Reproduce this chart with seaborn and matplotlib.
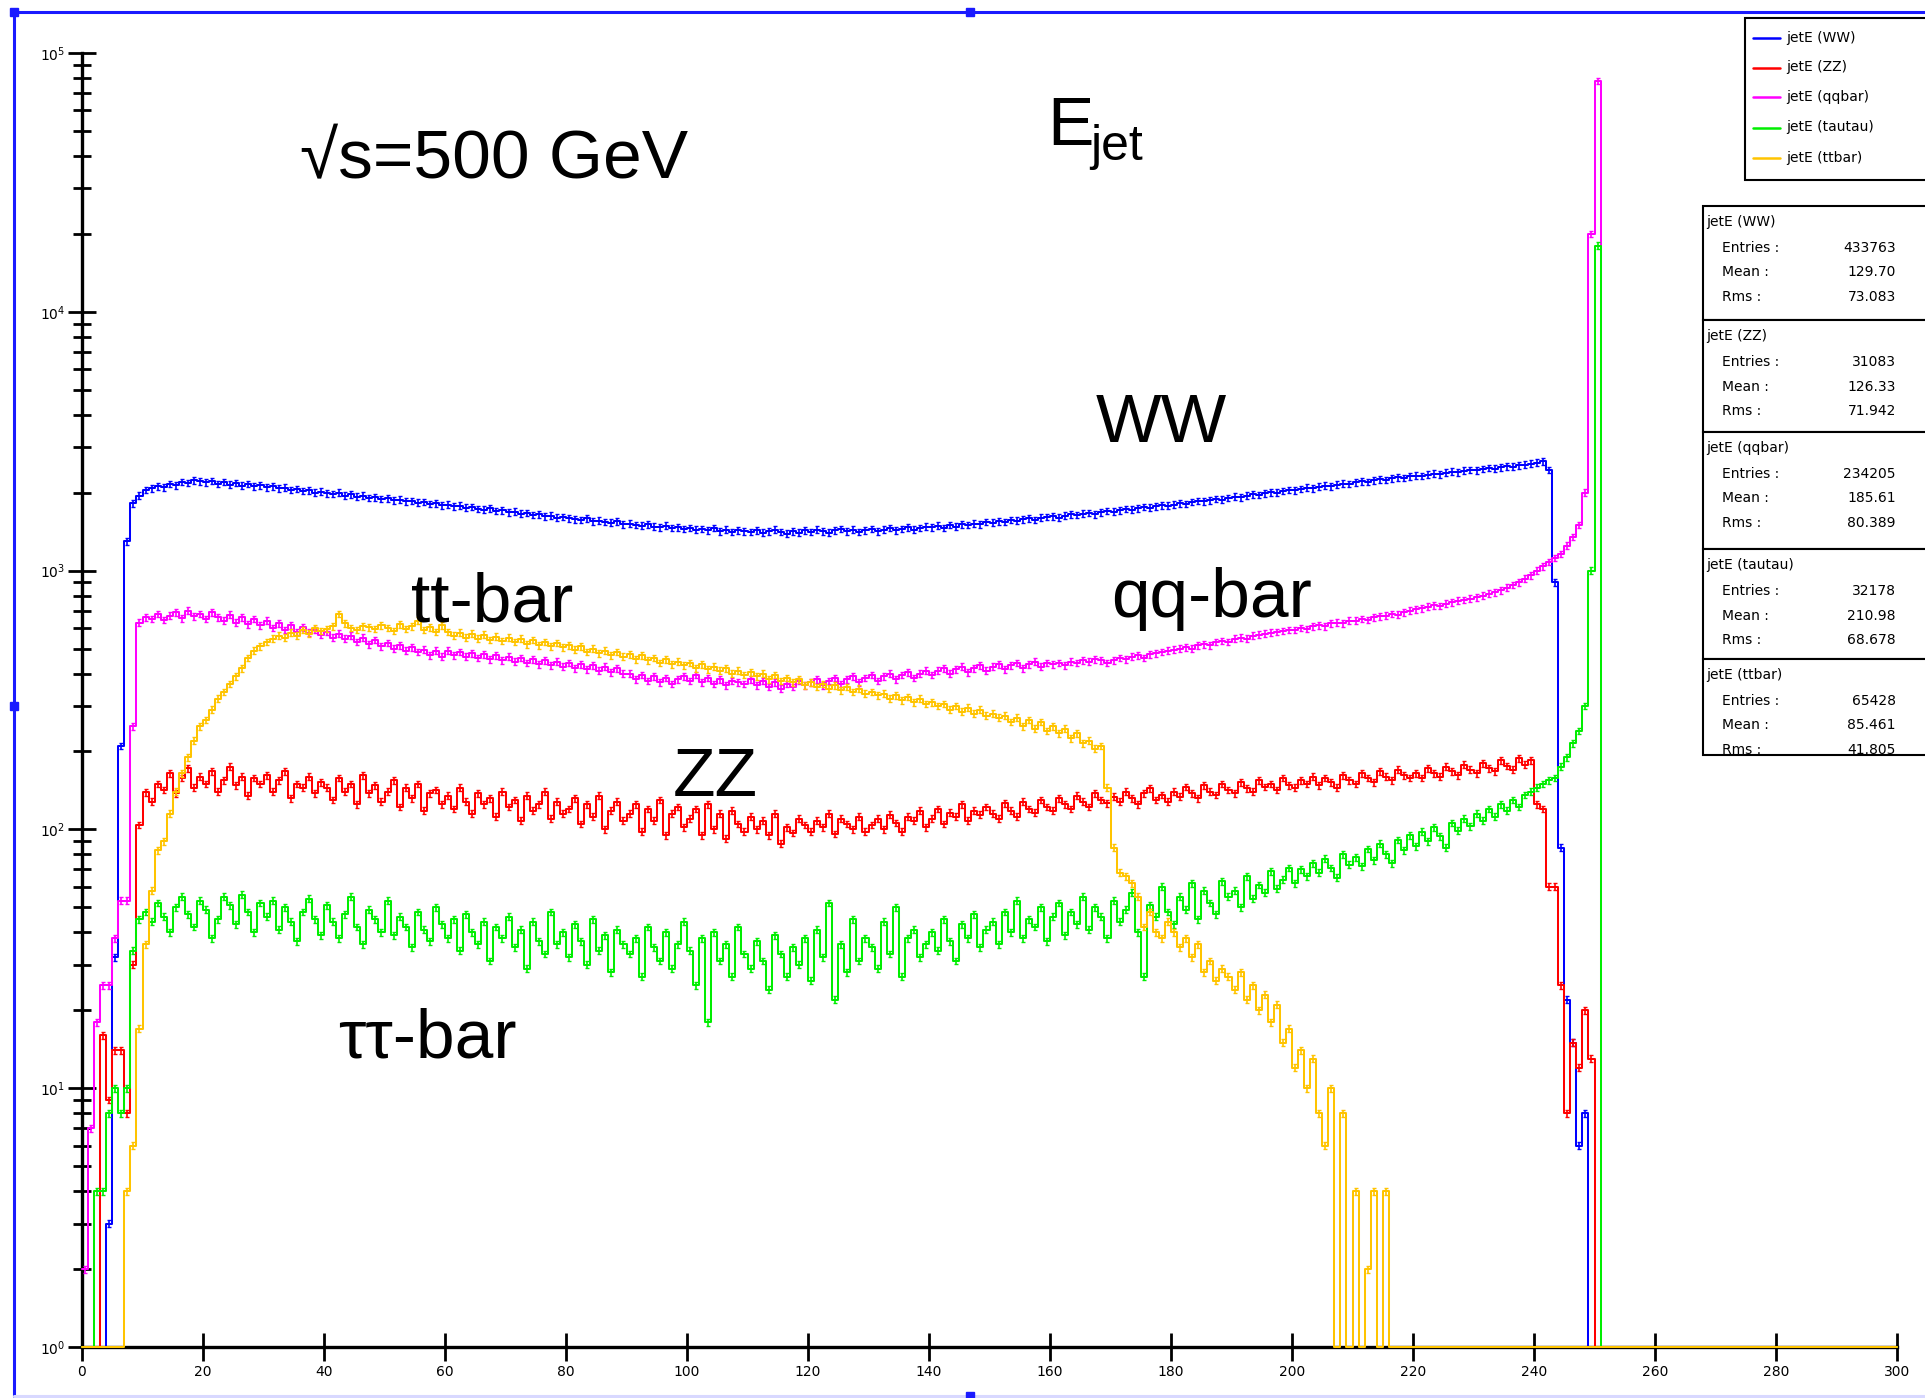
import numpy as np
import pandas as pd
import matplotlib
matplotlib.use("Agg")
import matplotlib.pyplot as plt
import seaborn as sns
from matplotlib.patches import Rectangle
from matplotlib.lines import Line2D
from matplotlib.ticker import LogLocator, NullFormatter

sns.set_theme(style="white")
plt.rcParams['font.family'] = ['Liberation Sans', 'DejaVu Sans']

# ---------------- data (counts per 1 GeV bin, starting at E = 0) ----------------
ww = [
    0, 0, 0, 0, 3, 32, 210, 1300, 1820, 1950,
    2050, 2080, 2120, 2100, 2160, 2140, 2200, 2180, 2230, 2210,
    2190, 2220, 2160, 2200, 2150, 2180, 2130, 2160, 2120, 2140,
    2100, 2120, 2080, 2090, 2050, 2070, 2030, 2040, 2000, 2020,
    1990, 1980, 2000, 1950, 1970, 1930, 1950, 1910, 1920, 1890,
    1900, 1870, 1880, 1850, 1860, 1830, 1840, 1810, 1820, 1790,
    1800, 1770, 1780, 1750, 1760, 1730, 1720, 1740, 1700, 1710,
    1680, 1690, 1660, 1670, 1640, 1650, 1620, 1630, 1600, 1610,
    1590, 1580, 1570, 1590, 1550, 1560, 1540, 1530, 1550, 1510,
    1520, 1500, 1490, 1510, 1480, 1470, 1490, 1460, 1470, 1450,
    1460, 1440, 1450, 1430, 1460, 1420, 1440, 1410, 1430, 1420,
    1410, 1430, 1400, 1420, 1440, 1410, 1390, 1420, 1400, 1430,
    1410, 1440, 1420, 1400, 1430, 1450, 1420, 1440, 1410, 1430,
    1450, 1420, 1440, 1460, 1430, 1450, 1470, 1440, 1460, 1480,
    1470, 1490, 1460, 1500, 1480, 1510, 1500, 1520, 1510, 1540,
    1530, 1550, 1540, 1570, 1560, 1580, 1590, 1570, 1600, 1610,
    1620, 1600, 1630, 1650, 1640, 1660, 1670, 1650, 1680, 1700,
    1690, 1710, 1730, 1720, 1740, 1760, 1750, 1770, 1790, 1780,
    1800, 1820, 1810, 1840, 1860, 1850, 1870, 1890, 1880, 1910,
    1930, 1920, 1950, 1970, 1960, 1990, 2010, 2000, 2030, 2050,
    2040, 2070, 2090, 2080, 2110, 2130, 2120, 2150, 2170, 2160,
    2190, 2210, 2200, 2230, 2250, 2240, 2270, 2290, 2280, 2310,
    2330, 2320, 2350, 2370, 2360, 2390, 2410, 2400, 2430, 2450,
    2440, 2470, 2490, 2480, 2510, 2530, 2520, 2550, 2570, 2590,
    2610, 2640, 2450, 900, 85, 22, 15, 6, 8, 0,
]

zz = [
    0, 0, 0, 16, 9, 14, 14, 8, 30, 104,
    139, 128, 150, 142, 165, 138, 158, 172, 145, 160,
    150, 168, 140, 155, 175, 148, 160, 135, 158, 150,
    162, 140, 155, 168, 132, 150, 145, 160, 138, 152,
    145, 130, 158, 140, 150, 125, 162, 138, 148, 128,
    140, 155, 122, 145, 132, 150, 118, 138, 142, 125,
    135, 120, 145, 128, 115, 138, 125, 132, 112, 140,
    122, 130, 108, 135, 118, 125, 140, 110, 128, 115,
    120, 132, 105, 125, 112, 135, 100, 118, 128, 108,
    115, 125, 98, 120, 108, 130, 95, 115, 122, 102,
    110, 120, 95, 125, 100, 115, 92, 118, 105, 98,
    112, 100, 108, 95, 115, 88, 102, 97, 110, 104,
    98, 108, 102, 115, 96, 110, 105, 100, 112, 98,
    104, 110, 100, 114, 106, 98, 112, 108, 118, 102,
    110, 120, 105, 116, 112, 125, 108, 118, 114, 122,
    115, 110, 126, 118, 112, 128, 120, 116, 130, 122,
    118, 132, 125, 120, 135, 128, 122, 138, 130, 126,
    134, 128, 140, 132, 125, 138, 144, 130, 136, 128,
    140, 134, 146, 138, 132, 148, 140, 136, 150, 142,
    138, 152, 144, 140, 155, 146, 150, 142, 158, 148,
    145, 155, 150, 160, 148, 158, 152, 145, 162, 155,
    150, 165, 158, 152, 168, 160, 155, 170, 162, 158,
    165, 158, 172, 165, 160, 175, 168, 162, 178, 170,
    165, 180, 172, 168, 185, 176, 170, 188, 178, 185,
    125, 120, 60, 60, 25, 8, 15, 12, 20, 13,
]

qqbar = [
    2, 7, 18, 25, 25, 38, 53, 53, 250, 630,
    660, 650, 680, 645, 670, 690, 655, 700, 665, 680,
    650, 690, 660, 640, 675, 630, 660, 620, 650, 615,
    640, 600, 625, 590, 615, 580, 605, 575, 590, 565,
    580, 550, 570, 545, 560, 530, 550, 520, 540, 510,
    525, 500, 515, 490, 505, 485, 495, 470, 490, 465,
    490, 470, 485, 465, 480, 460, 475, 455, 470, 450,
    465, 445, 460, 440, 455, 435, 450, 430, 445, 425,
    440, 420, 435, 415, 430, 410, 425, 405, 420, 400,
    400, 380, 395, 375, 390, 370, 385, 365, 380, 390,
    375, 395, 370, 385, 365, 380, 360, 375, 370, 365,
    380, 360, 375, 355, 370, 350, 365, 355, 375, 360,
    370, 380, 360, 375, 385, 365, 380, 390, 370, 385,
    395, 375, 390, 400, 380, 395, 405, 385, 400, 410,
    395, 410, 420, 400, 415, 425, 405, 420, 430, 410,
    425, 435, 415, 430, 440, 420, 435, 445, 425, 440,
    435, 440, 430, 445, 440, 450, 445, 455, 450, 440,
    450, 460, 455, 465, 470, 460, 475, 480, 485, 490,
    495, 500, 505, 500, 515, 520, 515, 530, 535, 530,
    545, 550, 545, 560, 565, 570, 575, 580, 585, 590,
    590, 600, 595, 610, 615, 610, 625, 630, 625, 640,
    640, 650, 645, 660, 665, 670, 680, 675, 690, 700,
    710, 715, 725, 735, 730, 745, 755, 765, 770, 780,
    790, 800, 815, 825, 840, 860, 880, 900, 930, 960,
    1000, 1040, 1080, 1120, 1160, 1250, 1350, 1500, 2000, 20000,
    78000,
]

tautau = [
    0, 0, 4, 4, 8, 10, 8, 10, 34, 45,
    48, 44, 52, 46, 40, 50, 55, 47, 42, 53,
    49, 38, 45, 55, 51, 43, 56, 48, 40, 52,
    46, 53, 41, 50, 44, 37, 48, 54, 45, 39,
    51, 44, 38, 47, 55, 42, 36, 49, 45, 40,
    53, 39, 46, 42, 35, 48, 41, 37, 50, 43,
    38, 45, 34, 47, 40, 36, 44, 31, 42, 38,
    46, 35, 41, 29, 44, 37, 33, 48, 36, 40,
    32, 43, 37, 30, 45, 34, 39, 28, 41, 36,
    33, 38, 27, 42, 35, 31, 40, 29, 36, 44,
    34, 25, 38, 18, 40, 31, 36, 27, 42, 33,
    29, 37, 31, 24, 39, 33, 27, 35, 30, 38,
    26, 41, 32, 52, 22, 36, 28, 45, 31, 38,
    35, 29, 44, 33, 50, 27, 38, 41, 32, 36,
    40, 34, 45, 37, 31, 43, 38, 47, 35, 41,
    44, 36, 48, 40, 53, 38, 45, 42, 50, 37,
    46, 52, 39, 48, 43, 55, 41, 50, 46, 38,
    53, 44, 49, 57, 40, 27, 51, 46, 60, 48,
    43, 55, 49, 62, 45, 58, 52, 47, 63, 55,
    58, 50, 66, 54, 61, 57, 69, 59, 64, 71,
    62, 70, 66, 74, 68, 77, 71, 65, 80, 73,
    78, 72, 84, 76, 88, 80, 74, 91, 83, 95,
    86, 98, 90, 102, 94, 85, 106, 99, 110, 103,
    115, 108, 120, 112, 125, 118, 130, 122, 136, 140,
    145, 150, 155, 158, 175, 190, 215, 240, 300, 1000,
    18000,
]

ttbar = [
    0, 0, 0, 0, 0, 0, 0, 4, 6, 17,
    36, 58, 83, 90, 115, 140, 165, 190, 220, 250,
    265, 290, 320, 340, 365, 390, 420, 460, 490, 510,
    530, 545, 560, 550, 575, 560, 590, 570, 600, 585,
    595, 610, 680, 625, 600, 590, 610, 605, 595, 615,
    600, 585, 620, 595, 610, 640, 590, 605, 580, 615,
    580, 560, 575, 550, 570, 545, 565, 540, 555, 535,
    550, 530, 545, 520, 540, 515, 530, 510, 525, 505,
    515, 495, 510, 485, 500, 480, 490, 470, 485, 465,
    475, 455, 470, 450, 460, 440, 455, 435, 445, 430,
    440, 420, 435, 415, 425, 410, 420, 400, 410, 395,
    405, 390, 400, 380, 395, 375, 385, 370, 380, 360,
    370, 355, 365, 350, 360, 345, 355, 340, 350, 335,
    340, 330, 335, 320, 330, 315, 325, 310, 320, 305,
    310, 300, 305, 290, 300, 285, 295, 280, 290, 275,
    280, 270, 275, 260, 270, 250, 265, 245, 260, 240,
    250, 235, 245, 225, 235, 215, 220, 205, 210, 145,
    85, 68, 66, 62, 55, 42, 48, 40, 38, 44,
    40, 35, 38, 32, 36, 28, 31, 26, 29, 27,
    24, 28, 22, 25, 20, 23, 18, 21, 15, 17,
    12, 14, 10, 13, 8, 6, 10, 0, 8, 0,
    4, 0, 2, 4, 0, 4,
]

labels = ["jetE (WW)", "jetE (ZZ)", "jetE (qqbar)", "jetE (tautau)", "jetE (ttbar)"]
colors = ["#0000ff", "#ff0000", "#ff00ff", "#00ee00", "#ffc400"]
stats_entries = ["433763", "31083", "234205", "32178", "65428"]
stats_mean = ["129.70", "126.33", "185.61", "210.98", "85.461"]
stats_rms = ["73.083", "71.942", "80.389", "68.678", "41.805"]

x_ticks = list(range(0, 301, 20))

# ---------------- figure ----------------
W, H = 1925, 1398
fig = plt.figure(figsize=(W / 100, H / 100), dpi=100, facecolor="white")


def fx(px):
    return px / W


def fy(py):
    return 1 - py / H


ax = fig.add_axes([fx(82), fy(1347), fx(1897) - fx(82), fy(53) - fy(1347)])
ax.set_facecolor("white")

n_bins = 300
centers = np.arange(n_bins) + 0.5

for vals, col, lab in zip([ww, zz, qqbar, tautau, ttbar], colors, labels):
    v = np.zeros(n_bins)
    v[:len(vals)] = vals
    df = pd.DataFrame({"E": centers, "count": np.maximum(v, 1.0)})  # empty bins sit on the baseline
    sns.histplot(data=df, x="E", weights="count", binwidth=1, binrange=(0, 300),
                 element="step", fill=False, color=col, linewidth=1.45, ax=ax,
                 zorder=3, clip_on=False)
    m = v > 0
    ax.errorbar(centers[m], v[m], yerr=0.03 * v[m], fmt="none", ecolor=col,
                elinewidth=1.2, capsize=1.5, capthick=1.0, zorder=3)

ax.set_yscale("log")
ax.set_xlim(0, 300)
ax.set_ylim(1, 1e5)
ax.set_xlabel("")
ax.set_ylabel("")

for s in ["top", "right"]:
    ax.spines[s].set_visible(False)
for s in ["left", "bottom"]:
    ax.spines[s].set_color("black")
    ax.spines[s].set_linewidth(2.4)

ax.set_xticks(x_ticks)
ax.yaxis.set_major_locator(LogLocator(base=10, numticks=10))
ax.yaxis.set_minor_locator(LogLocator(base=10, subs=np.arange(2, 10), numticks=30))
ax.yaxis.set_minor_formatter(NullFormatter())
ax.tick_params(axis="x", which="major", bottom=True, direction="inout", length=20,
               width=2, color="black", labelsize=10, pad=3, labelcolor="black")
ax.tick_params(axis="y", which="major", left=True, direction="inout", length=20,
               width=2, color="black", labelsize=10, pad=2, labelcolor="black")
ax.tick_params(axis="y", which="minor", left=True, direction="inout", length=13,
               width=2, color="black")
for t in ax.get_xticklabels() + ax.get_yticklabels():
    t.set_fontfamily("DejaVu Sans")

# ---------------- big annotations ----------------
big = dict(fontsize=50, color="black", ha="left", va="baseline",
           family=["Liberation Sans", "DejaVu Sans"])
fig.text(fx(300), fy(178), "\u221As=500 GeV", **big)
fig.text(fx(1047), fy(145), "E", **big)
fig.text(fx(1090), fy(160), "jet", fontsize=36, color="black", ha="left",
         va="baseline", family=["Liberation Sans", "DejaVu Sans"])
fig.text(fx(1096), fy(442), "WW", **big)
fig.text(fx(411), fy(622), "tt-bar", **big)
fig.text(fx(1111), fy(617), "qq-bar", **big)
fig.text(fx(673), fy(796), "ZZ", **big)
fig.text(fx(338), fy(1058), "\u03c4\u03c4-bar", **big)

# ---------------- legend box ----------------
small = dict(fontsize=10, color="black", family=["DejaVu Sans"])
leg = Rectangle((fx(1745), fy(180)), fx(1935) - fx(1745), fy(18) - fy(180),
                transform=fig.transFigure, facecolor="white", edgecolor="black",
                lw=1.5, zorder=5)
fig.add_artist(leg)
rows_y = [38, 67.5, 97, 127.5, 158]
for yy, col, lab in zip(rows_y, colors, labels):
    fig.add_artist(Line2D([fx(1753), fx(1780)], [fy(yy), fy(yy)],
                          transform=fig.transFigure, color=col, lw=1.8, zorder=6))
    fig.text(fx(1786), fy(yy), lab, ha="left", va="center", zorder=6, **small)

# ---------------- statistics boxes ----------------
box_tops = [206, 320, 432, 549, 659]
box_bots = [320, 432, 549, 659, 755]
for k in range(5):
    t0, b0 = box_tops[k], box_bots[k]
    r = Rectangle((fx(1703), fy(b0)), fx(1935) - fx(1703), fy(t0) - fy(b0),
                  transform=fig.transFigure, facecolor="white", edgecolor="black",
                  lw=1.5, zorder=5)
    fig.add_artist(r)
    lines = [
        (fx(1706), t0 + 16, labels[k], "left"),
        (fx(1722), t0 + 42, "Entries :", "left"),
        (fx(1722), t0 + 66.5, "Mean :", "left"),
        (fx(1722), t0 + 91, "Rms :", "left"),
        (fx(1896), t0 + 42, stats_entries[k], "right"),
        (fx(1896), t0 + 66.5, stats_mean[k], "right"),
        (fx(1896), t0 + 91, stats_rms[k], "right"),
    ]
    for xx, yy, s, ha in lines:
        t = fig.text(xx, fy(yy), s, ha=ha, va="center", zorder=6, **small)
        t.set_clip_path(r)

# ---------------- selection frame ----------------
frame_col = "#1a1aff"
fig.add_artist(Line2D([fx(14), fx(14)], [fy(12), fy(1396)], transform=fig.transFigure,
                      color=frame_col, lw=2.2))
fig.add_artist(Line2D([fx(14), fx(1925)], [fy(12), fy(12)], transform=fig.transFigure,
                      color=frame_col, lw=2.2))
fig.add_artist(Line2D([fx(14), fx(1925)], [fy(1396), fy(1396)], transform=fig.transFigure,
                      color="#d8d8ff", lw=2.2))
for hx, hy in [(14, 12), (14, 706), (970, 12), (970, 1396)]:
    fig.add_artist(Rectangle((fx(hx - 4), fy(hy + 4)), fx(8), 8 / H,
                             transform=fig.transFigure, facecolor=frame_col,
                             edgecolor=frame_col, zorder=7))

fig.savefig("out.png", dpi=100, facecolor="white")
